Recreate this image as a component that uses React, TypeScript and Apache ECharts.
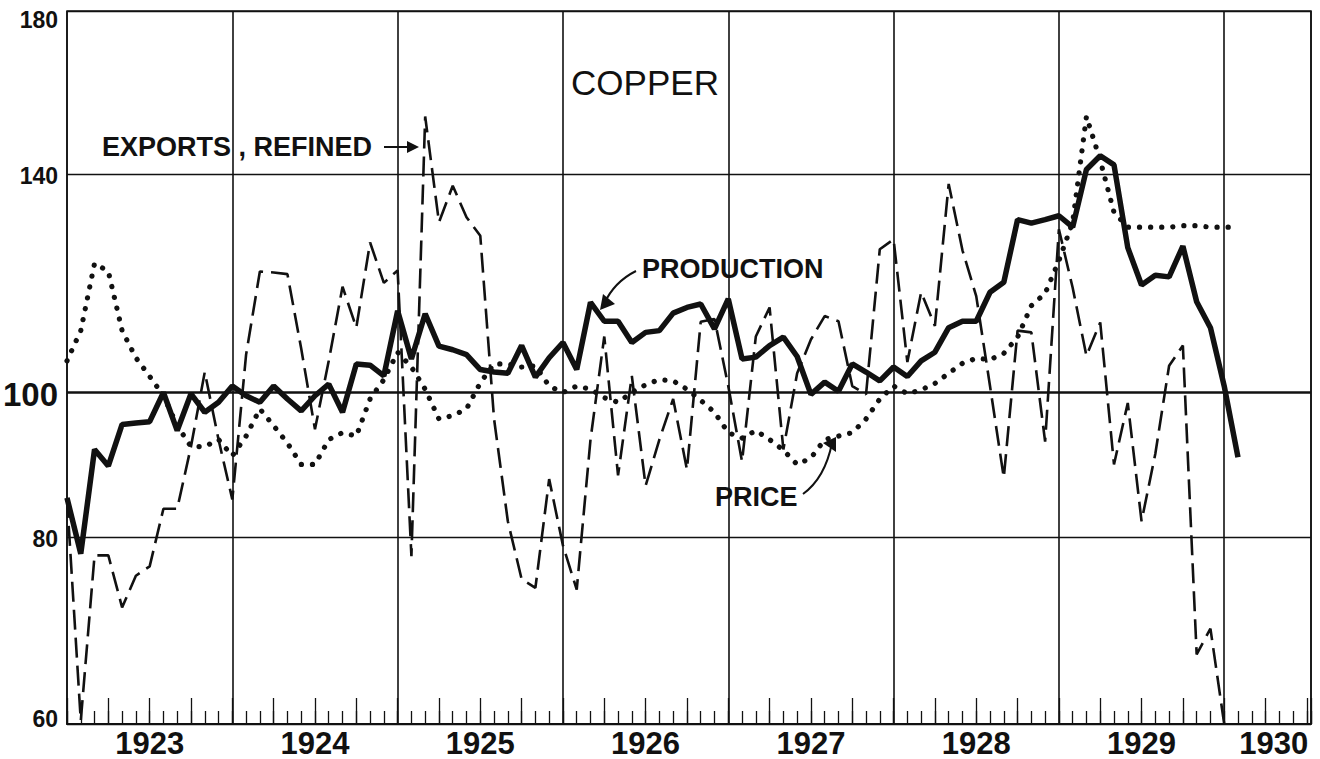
import React, { useEffect, useRef } from 'react';
import * as echarts from 'echarts';

// Monthly index values, January 1923 = month 0 (log scale, 100 = average)
const production = [
  85, 78, 91.6, 89.3, 95.2, 95.4, 95.6, 100, 94.3, 99.8, 97, 98.5,
  101, 99.5, 98.5, 101, 99, 97.2, 99.5, 101.3, 97, 104.5, 104.3, 102.6,
  113.4, 105.3, 112.9, 107.4, 106.8, 106, 103.6, 103.2, 103, 107.5, 102.4, 105.5,
  108, 103.6, 114.9, 111.6, 111.6, 108, 109.7, 110, 113, 114, 114.6, 110.3,
  115.5, 105.3, 105.6, 107.5, 108.9, 105.7, 99.7, 101.6, 100.2, 104.5, 103.2, 101.8,
  104, 102.5, 105, 106.4, 110.5, 111.6, 111.6, 116.7, 118.5, 130.5, 129.8, 130.5,
  131.3, 129, 141, 144, 142, 125, 118, 119.8, 119.5, 125.3, 115, 110.5,
  101, 90.5,
];

const price = [
  105, 110, 122, 120.5, 110, 105.5, 102.5, 99.5, 95, 92, 92, 93,
  90.7, 93.5, 97.5, 95, 92.5, 89.5, 89.5, 93, 94, 93.5, 99, 102,
  106.4, 104, 100.5, 96, 96.5, 97.5, 101.5, 104.5, 104.5, 104, 104.2, 101,
  100, 101, 100.5, 99.2, 98.5, 100, 101.2, 102, 101.8, 100.5, 98.8, 97,
  94, 93.2, 94.3, 93, 91.5, 89.5, 90.4, 93, 93.5, 94, 96, 99,
  101, 99.8, 100.4, 101.4, 103, 104.6, 105.4, 105.2, 106.2, 108.9, 114.3, 116.5,
  122.5, 130, 153, 143, 132, 129, 129, 129, 129, 129.3, 129.3, 129,
  129, 129,
];

const exportsRefined = [
  85, 60.3, 77.8, 77.8, 71.8, 75.4, 76.5, 83.6, 83.6, 92, 103.2, 93,
  84.8, 106, 120.5, 120.3, 120, 107, 94.5, 105, 117.7, 110.5, 126, 118.4,
  120.7, 77.7, 153, 130, 137.5, 131, 127.3, 96, 82, 75, 74, 87.5,
  79, 73.8, 93, 109, 88, 102.6, 86.6, 93, 99, 88.8, 111.5, 112,
  101, 89.9, 109, 114, 91.6, 103, 108.5, 112.5, 111.6, 101, 99.7, 124.7,
  126.6, 104.8, 116.7, 110.8, 137.9, 124.5, 116, 101, 87.7, 110, 109.7, 92.7,
  128.6, 117.5, 105.8, 111.4, 89.5, 98.4, 82, 91, 104.2, 107.5, 66.8, 69.5,
  60,
];

const yearLabels = ['1923', '1924', '1925', '1926', '1927', '1928', '1929', '1930'];
const yearLabelMonths = [6, 18, 30, 42, 54, 66, 78, 87.6];
const yTickValues = [60, 80, 100, 140, 180];

const INK = '#111111';
const FONT = '"Liberation Sans", Arial, sans-serif';

export default function App() {
  const ref = useRef<HTMLDivElement | null>(null);

  useEffect(() => {
    if (!ref.current) return;
    const chart = echarts.init(ref.current, undefined, { renderer: 'svg' });

    const toPairs = (arr: number[]) => arr.map((v, i) => [i, v]);

    const labelOffset = (v: number) => (v === 180 ? [0, 9] : v === 60 ? [0, -5] : [0, 2]);

    const option: any = {
      animation: false,
      backgroundColor: '#ffffff',
      grid: {
        left: 67, right: 9, top: 11, bottom: 35,
        show: true, borderColor: INK, borderWidth: 1.5, backgroundColor: 'transparent',
      },
      xAxis: [
        {
          // quarterly long ticks
          type: 'value', min: 0, max: 90.3, interval: 3, position: 'bottom',
          axisLine: { show: true, onZero: false, lineStyle: { color: INK, width: 2 } },
          axisTick: { show: true, inside: true, length: 26, lineStyle: { color: INK, width: 1.3 } },
          axisLabel: { show: false },
          splitLine: { show: false },
        },
        {
          // monthly short ticks
          type: 'value', min: 0, max: 90.3, interval: 1, position: 'bottom',
          axisLine: { show: false },
          axisTick: { show: true, inside: true, length: 13, lineStyle: { color: INK, width: 1.3 } },
          axisLabel: { show: false },
          splitLine: { show: false },
        },
        {
          // year grid lines and year labels
          type: 'value', min: 0, max: 90.3, interval: 12, position: 'bottom',
          axisLine: { show: false },
          axisTick: { show: false },
          splitLine: { show: true, lineStyle: { color: INK, width: 1.6 } },
          axisLabel: {
            show: true,
            customValues: yearLabelMonths,
            formatter: (v: number) => {
              const i = yearLabelMonths.indexOf(v);
              return i >= 0 ? yearLabels[i] : '';
            },
            margin: 6,
            fontSize: 31,
            lineHeight: 26,
            fontWeight: 'bold',
            fontFamily: FONT,
            color: INK,
          },
        },
      ],
      yAxis: {
        type: 'log', logBase: 10, min: 60, max: 180,
        axisLine: { show: false }, axisTick: { show: false },
        axisLabel: { show: false }, splitLine: { show: false },
      },
      series: [
        {
          name: 'grid', type: 'line', data: [], z: 1, silent: true,
          markLine: {
            silent: true, symbol: 'none', animation: false,
            data: yTickValues.map((v) => ({
              yAxis: v,
              name: String(v),
              lineStyle: { color: INK, type: 'solid', width: v === 100 ? 2.6 : 1.3 },
              label: {
                show: true, position: 'start', formatter: '{b}', distance: 9,
                offset: labelOffset(v),
                color: INK, fontFamily: FONT, fontWeight: 'bold', fontSize: v === 100 ? 33 : 23,
              },
            })),
          },
        },
        {
          name: 'Exports, refined', type: 'line', data: toPairs(exportsRefined), z: 3,
          symbol: 'none', lineStyle: { color: INK, width: 2.6, type: [20, 8] },
        },
        {
          name: 'Price', type: 'line', data: toPairs(price), z: 4,
          symbol: 'none', lineStyle: { color: INK, width: 5.2, type: [0.1, 11], cap: 'round' },
        },
        {
          name: 'Production', type: 'line', data: toPairs(production), z: 5,
          symbol: 'none', lineStyle: { color: INK, width: 5.5 },
        },
      ],
      graphic: [
        {
          type: 'text', x: 645, y: 82, z: 10,
          style: { text: 'COPPER', font: `35px ${FONT}`, fill: INK, textAlign: 'center', textVerticalAlign: 'middle' },
        },
        {
          type: 'text', x: 102, y: 147, z: 10,
          style: { text: 'EXPORTS , REFINED', font: `bold 27px ${FONT}`, fill: INK, textAlign: 'left', textVerticalAlign: 'middle' },
        },
        { type: 'line', z: 10, shape: { x1: 384, y1: 147, x2: 410, y2: 147 }, style: { stroke: INK, lineWidth: 2 } },
        { type: 'polygon', z: 10, shape: { points: [[419, 147], [407, 141], [407, 153]] }, style: { fill: INK } },
        {
          type: 'text', x: 642, y: 269, z: 10,
          style: { text: 'PRODUCTION', font: `bold 27px ${FONT}`, fill: INK, textAlign: 'left', textVerticalAlign: 'middle' },
        },
        {
          type: 'bezierCurve', z: 10,
          shape: { x1: 636, y1: 271, x2: 604, y2: 304, cpx1: 614, cpy1: 282 },
          style: { stroke: INK, lineWidth: 2, fill: 'none' },
        },
        { type: 'polygon', z: 10, shape: { points: [[600, 310], [603, 294], [615, 304]] }, style: { fill: INK } },
        {
          type: 'text', x: 715, y: 497, z: 10,
          style: { text: 'PRICE', font: `bold 27px ${FONT}`, fill: INK, textAlign: 'left', textVerticalAlign: 'middle' },
        },
        {
          type: 'bezierCurve', z: 10,
          shape: { x1: 803, y1: 494, x2: 832, y2: 443, cpx1: 825, cpy1: 478 },
          style: { stroke: INK, lineWidth: 2, fill: 'none' },
        },
        { type: 'polygon', z: 10, shape: { points: [[836, 437], [823, 443], [836, 452]] }, style: { fill: INK } },
      ],
    };

    chart.setOption(option);
    return () => chart.dispose();
  }, []);

  return (
    <div
      ref={ref}
      style={{ position: 'absolute', left: 0, top: 0, width: 1320, height: 759, background: '#fff' }}
    />
  );
}
